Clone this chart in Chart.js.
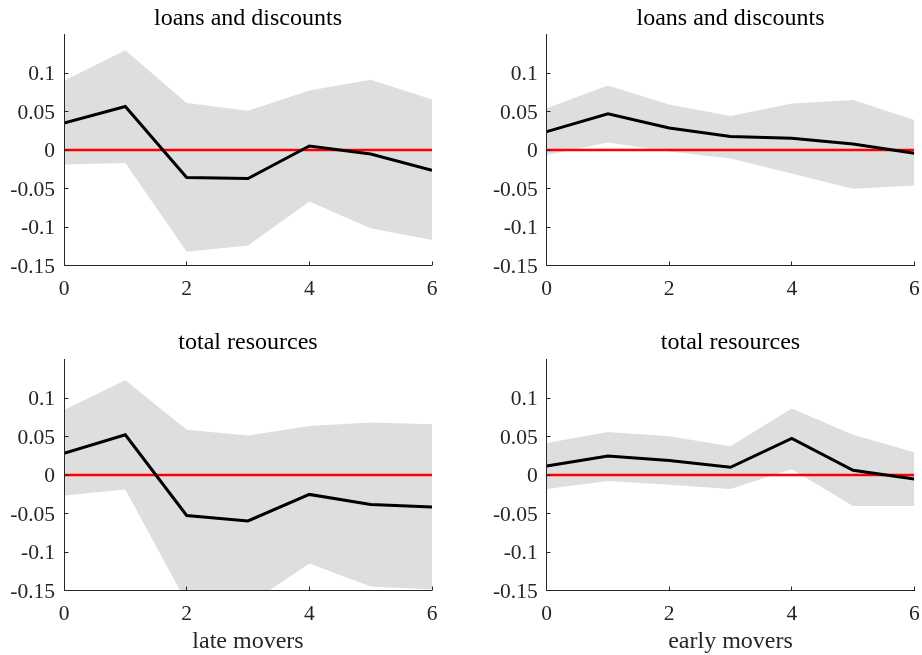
<!DOCTYPE html>
<html>
<head>
<meta charset="utf-8">
<script src="https://cdn.jsdelivr.net/npm/chart.js@4/dist/chart.umd.min.js"></script>
<style>
  html, body { margin: 0; padding: 0; background: #fff; overflow: hidden; }
  .panel { position: absolute; }
</style>
</head>
<body>
<div class="panel" style="left:0;top:0;"><canvas id="c1" width="461" height="300"></canvas></div>
<div class="panel" style="left:461px;top:0;"><canvas id="c2" width="461" height="300"></canvas></div>
<div class="panel" style="left:0;top:300px;"><canvas id="c3" width="461" height="355"></canvas></div>
<div class="panel" style="left:461px;top:300px;"><canvas id="c4" width="461" height="355"></canvas></div>
<script>
// Horizons (quarters after the shock)
const horizons = [0, 1, 2, 3, 4, 5, 6];
const xTicks = [0, 2, 4, 6];
const yTicks = [-0.15, -0.1, -0.05, 0, 0.05, 0.1];

// Loans and discounts, late movers: response and confidence band
const loansLate      = [0.035, 0.0565, -0.0357, -0.037, 0.0052, -0.0052, -0.0265];
const loansLateUpper = [0.090, 0.1296, 0.0609, 0.0509, 0.0774, 0.0913, 0.0657];
const loansLateLower = [-0.0187, -0.017, -0.132, -0.124, -0.067, -0.1017, -0.117];

// Loans and discounts, early movers
const loansEarly      = [0.0239, 0.047, 0.0287, 0.0174, 0.0152, 0.0078, -0.0043];
const loansEarlyUpper = [0.0543, 0.0839, 0.059, 0.0443, 0.0604, 0.0648, 0.039];
const loansEarlyLower = [-0.0065, 0.0096, -0.002, -0.0109, -0.0304, -0.0504, -0.046];

// Total resources, late movers
const resLate      = [0.0283, 0.0522, -0.0526, -0.0596, -0.0252, -0.0383, -0.0417];
const resLateUpper = [0.0843, 0.123, 0.0587, 0.0513, 0.0635, 0.0683, 0.066];
const resLateLower = [-0.0265, -0.0187, -0.166, -0.1685, -0.1148, -0.1448, -0.1487];

// Total resources, early movers
const resEarly      = [0.0117, 0.0248, 0.0187, 0.010, 0.0474, 0.0061, -0.0052];
const resEarlyUpper = [0.0417, 0.0557, 0.0504, 0.0374, 0.0865, 0.0522, 0.0296];
const resEarlyLower = [-0.0183, -0.0078, -0.0126, -0.0183, 0.0074, -0.0404, -0.0404];

const zeroLine = [0, 0, 0, 0, 0, 0, 0];

const SERIF = '"Liberation Serif", "Times New Roman", Times, serif';
const AXIS_COLOR = '#262626';
const BAND_COLOR = '#dedede';

const pts = arr => arr.map((v, i) => ({ x: horizons[i], y: v }));

// Axis lines with inward ticks, drawn over the band
const axesPlugin = {
  id: 'matlabAxes',
  afterDatasetsDraw(chart) {
    const { ctx, chartArea: a, scales } = chart;
    const L = Math.floor(a.left) + 0.5;
    const B = Math.floor(a.bottom) + 0.5;
    ctx.save();
    ctx.strokeStyle = AXIS_COLOR;
    ctx.lineWidth = 1;
    ctx.beginPath();
    ctx.moveTo(L, Math.floor(a.top));
    ctx.lineTo(L, B);
    ctx.lineTo(Math.ceil(a.right), B);
    const tl = 4;
    yTicks.forEach(v => {
      const y = Math.floor(scales.y.getPixelForValue(v)) + 0.5;
      ctx.moveTo(L, y);
      ctx.lineTo(L + tl, y);
    });
    xTicks.forEach(v => {
      const x = Math.floor(scales.x.getPixelForValue(v)) + 0.5;
      ctx.moveTo(x, B);
      ctx.lineTo(x, B - tl);
    });
    ctx.stroke();
    ctx.restore();
  }
};

// Panel title centred over the plotting area
const panelTitlePlugin = {
  id: 'panelTitle',
  afterDraw(chart, args, opts) {
    const { ctx, chartArea: a } = chart;
    ctx.save();
    ctx.fillStyle = '#000000';
    ctx.font = '24px ' + SERIF;
    ctx.textAlign = 'center';
    ctx.textBaseline = 'middle';
    ctx.fillText(opts.text, (a.left + a.right) / 2, opts.y);
    ctx.restore();
  }
};

function makePanel(id, opts) {
  const { title, titleY, mid, upper, lower, yWidth, rightPad, topPad, xHeight, xLabel } = opts;
  return new Chart(document.getElementById(id), {
    type: 'line',
    data: {
      datasets: [
        { data: pts(mid), borderColor: '#000000', borderWidth: 3, pointRadius: 0, fill: false, tension: 0 },
        { data: pts(zeroLine), borderColor: '#ff0000', borderWidth: 2.5, pointRadius: 0, fill: false, tension: 0 },
        { data: pts(upper), borderWidth: 0, borderColor: 'rgba(0,0,0,0)', backgroundColor: BAND_COLOR, pointRadius: 0, fill: '+1', tension: 0 },
        { data: pts(lower), borderWidth: 0, borderColor: 'rgba(0,0,0,0)', pointRadius: 0, fill: false, tension: 0 }
      ]
    },
    options: {
      responsive: false,
      animation: false,
      devicePixelRatio: 1,
      layout: { padding: { left: 0, right: rightPad, top: topPad, bottom: 0 } },
      plugins: {
        legend: { display: false },
        tooltip: { enabled: false },
        title: { display: false },
        panelTitle: { text: title, y: titleY }
      },
      scales: {
        x: {
          type: 'linear',
          min: 0, max: 6,
          grid: { display: false, drawTicks: false },
          border: { display: false },
          ticks: {
            stepSize: 2,
            padding: 10.5,
            color: AXIS_COLOR,
            maxRotation: 0,
            font: { family: SERIF, size: 21.5, lineHeight: 1.2 },
            callback: v => String(v)
          },
          title: xLabel ? {
            display: true,
            text: xLabel,
            color: AXIS_COLOR,
            font: { family: SERIF, size: 24, lineHeight: 1.1 },
            padding: { top: 0, bottom: 0 }
          } : { display: false },
          afterFit(s) { s.height = xHeight; s.paddingLeft = 0; s.paddingRight = 0; }
        },
        y: {
          min: -0.15, max: 0.15,
          grid: { display: false, drawTicks: false },
          border: { display: false },
          ticks: {
            stepSize: 0.05,
            padding: 9,
            labelOffset: 1.5,
            color: AXIS_COLOR,
            font: { family: SERIF, size: 21.5, lineHeight: 1.2 },
            callback: v => {
              const r = Math.round(v * 100) / 100;
              return r > 0.12 ? '' : String(r);
            }
          },
          afterFit(s) { s.width = yWidth; s.paddingTop = 0; s.paddingBottom = 0; }
        }
      }
    },
    plugins: [axesPlugin, panelTitlePlugin]
  });
}

makePanel('c1', { title: 'loans and discounts', titleY: 18.5, mid: loansLate, upper: loansLateUpper, lower: loansLateLower,
  yWidth: 64, rightPad: 29, topPad: 34.5, xHeight: 34.5 });
makePanel('c2', { title: 'loans and discounts', titleY: 18.5, mid: loansEarly, upper: loansEarlyUpper, lower: loansEarlyLower,
  yWidth: 85.7, rightPad: 7.7, topPad: 34.5, xHeight: 34.5 });
makePanel('c3', { title: 'total resources', titleY: 43, mid: resLate, upper: resLateUpper, lower: resLateLower,
  yWidth: 64, rightPad: 29, topPad: 59.5, xHeight: 64.5, xLabel: 'late movers' });
makePanel('c4', { title: 'total resources', titleY: 43, mid: resEarly, upper: resEarlyUpper, lower: resEarlyLower,
  yWidth: 85.7, rightPad: 7.7, topPad: 59.5, xHeight: 64.5, xLabel: 'early movers' });
</script>
</body>
</html>
